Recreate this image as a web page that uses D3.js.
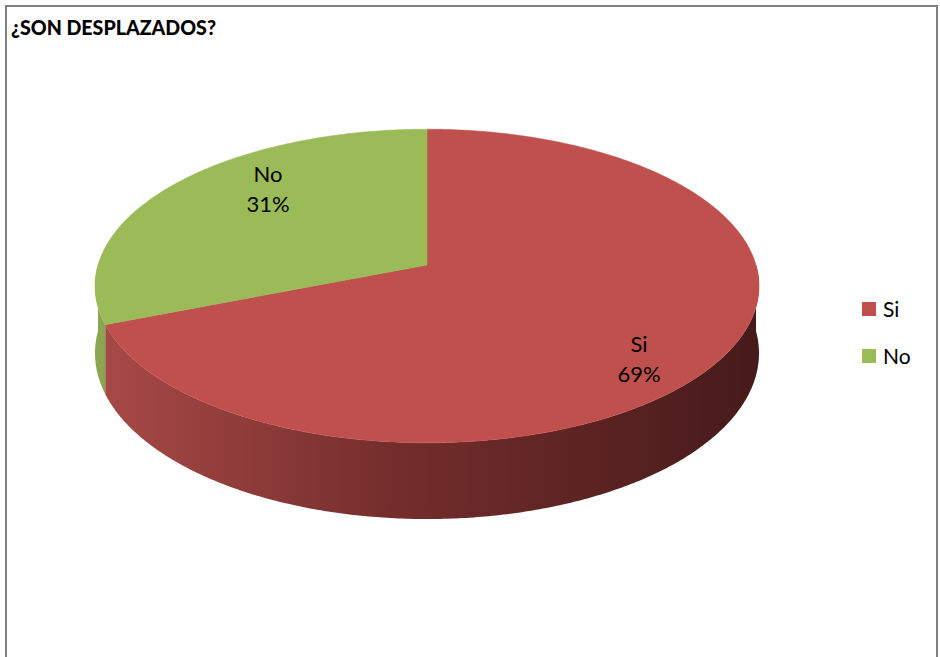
<!DOCTYPE html>
<html>
<head>
<meta charset="utf-8">
<script src="https://cdn.jsdelivr.net/npm/d3@7"></script>
<style>
  html, body { margin: 0; padding: 0; background: #fff; }
  svg { display: block; }
</style>
</head>
<body>
<div id="chart"></div>
<script>
// chart data
var categories = ['Si', 'No'];
var values = [69, 31];
var labels = ['69%', '31%'];
var title = '¿SON DESPLAZADOS?';

var width = 940,
    height = 657;

var topColors = d3.scaleOrdinal().domain(categories).range(['#c0504d', '#9bbb59']);

var svg = d3.select('#chart')
    .append('svg')
    .attr('width', width)
    .attr('height', height);

// frame (bottom edge falls outside the picture)
svg.append('rect')
    .attr('x', 6)
    .attr('y', 6)
    .attr('width', 931)
    .attr('height', 700)
    .attr('fill', 'none')
    .attr('stroke', '#808080')
    .attr('stroke-width', 2);

svg.append('text')
    .attr('x', 11)
    .attr('y', 35)
    .attr('font-family', 'Lato, sans-serif')
    .attr('font-weight', 900)
    .attr('font-size', '21px')
    .attr('textLength', 205)
    .attr('lengthAdjust', 'spacingAndGlyphs')
    .attr('fill', '#000')
    .text(title);

// 3d pie geometry: tilted disc seen with a bit of perspective
var cx = 427, cy = 265, R = 329, Ry = 154, k = 0.134, depth = 66;

function proj(a, r, dz) {
    var u = Math.sin(a) * r, v = -Math.cos(a) * r;
    var s = 1 / (1 - k * v);
    return [cx + R * u * s, cy + Ry * v * s + (dz || 0) * s];
}

var pie = d3.pie().sort(null).value(function(d) { return d.value; });
var arcs = pie(categories.map(function(c, i) { return { name: c, value: values[i], label: labels[i] }; }));

function arcPoints(a0, a1, dz) {
    var n = Math.max(2, Math.ceil((a1 - a0) / 0.01));
    return d3.range(n + 1).map(function(i) { return proj(a0 + (a1 - a0) * i / n, 1, dz); });
}

var line = d3.line();

// shading for the walls
var defs = svg.append('defs');
var gRed = defs.append('linearGradient').attr('id', 'sideSi')
    .attr('gradientUnits', 'userSpaceOnUse')
    .attr('x1', cx - R).attr('x2', cx + R).attr('y1', 0).attr('y2', 0);
gRed.append('stop').attr('offset', '0%').attr('stop-color', '#a84a47');
gRed.append('stop').attr('offset', '45%').attr('stop-color', '#742d2c');
gRed.append('stop').attr('offset', '100%').attr('stop-color', '#471b1b');
var gGreen = defs.append('linearGradient').attr('id', 'sideNo')
    .attr('gradientUnits', 'userSpaceOnUse')
    .attr('x1', cx - R).attr('x2', cx + R).attr('y1', 0).attr('y2', 0);
gGreen.append('stop').attr('offset', '0%').attr('stop-color', '#8aa651');
gGreen.append('stop').attr('offset', '100%').attr('stop-color', '#4d5e2c');

// front walls (only the part between the left and right edges shows)
var front0 = Math.PI / 2, front1 = Math.PI * 1.5;
svg.append('g')
    .selectAll('path')
    .data(arcs)
    .enter()
    .append('path')
    .attr('d', function(d) {
        var a0 = Math.max(d.startAngle, front0), a1 = Math.min(d.endAngle, front1);
        if (a1 <= a0) return null;
        var topPts = arcPoints(a0, a1, 0);
        var botPts = arcPoints(a0, a1, depth).reverse();
        return line(topPts.concat(botPts)) + 'Z';
    })
    .attr('fill', function(d) { return 'url(#side' + d.data.name + ')'; });

// top faces
svg.append('g')
    .selectAll('path')
    .data(arcs)
    .enter()
    .append('path')
    .attr('d', function(d) {
        return line([[cx, cy]].concat(arcPoints(d.startAngle, d.endAngle, 0))) + 'Z';
    })
    .attr('fill', function(d) { return topColors(d.data.name); })
    .attr('stroke', function(d) { return topColors(d.data.name); })
    .attr('stroke-width', 0.5);

// slice labels
var lab = svg.append('g')
    .selectAll('text')
    .data(arcs)
    .enter()
    .append('text')
    .attr('font-family', 'Lato, sans-serif')
    .attr('font-size', '22px')
    .attr('fill', '#000')
    .attr('text-anchor', 'middle')
    .attr('transform', function(d) {
        var a = (d.startAngle + d.endAngle) / 2;
        var px = proj(a, 0.68)[0] + 17;
        var py = cy - Math.cos(a) * Ry * 0.98 + 14;
        return 'translate(' + px + ',' + py + ')';
    });
lab.append('tspan').attr('x', 0).attr('y', -12).text(function(d) { return d.data.name; });
lab.append('tspan').attr('x', 0).attr('y', 18).text(function(d) { return d.data.label; });

// legend
var legend = svg.append('g')
    .selectAll('g')
    .data(categories)
    .enter()
    .append('g')
    .attr('transform', function(d, i) { return 'translate(862,' + (302 + i * 47) + ')'; });
legend.append('rect')
    .attr('width', 14)
    .attr('height', 14)
    .attr('fill', function(d) { return topColors(d); });
legend.append('text')
    .attr('x', 21)
    .attr('y', 15)
    .attr('font-family', 'Lato, sans-serif')
    .attr('font-size', '21px')
    .attr('fill', '#000')
    .text(function(d) { return d; });
</script>
</body>
</html>
